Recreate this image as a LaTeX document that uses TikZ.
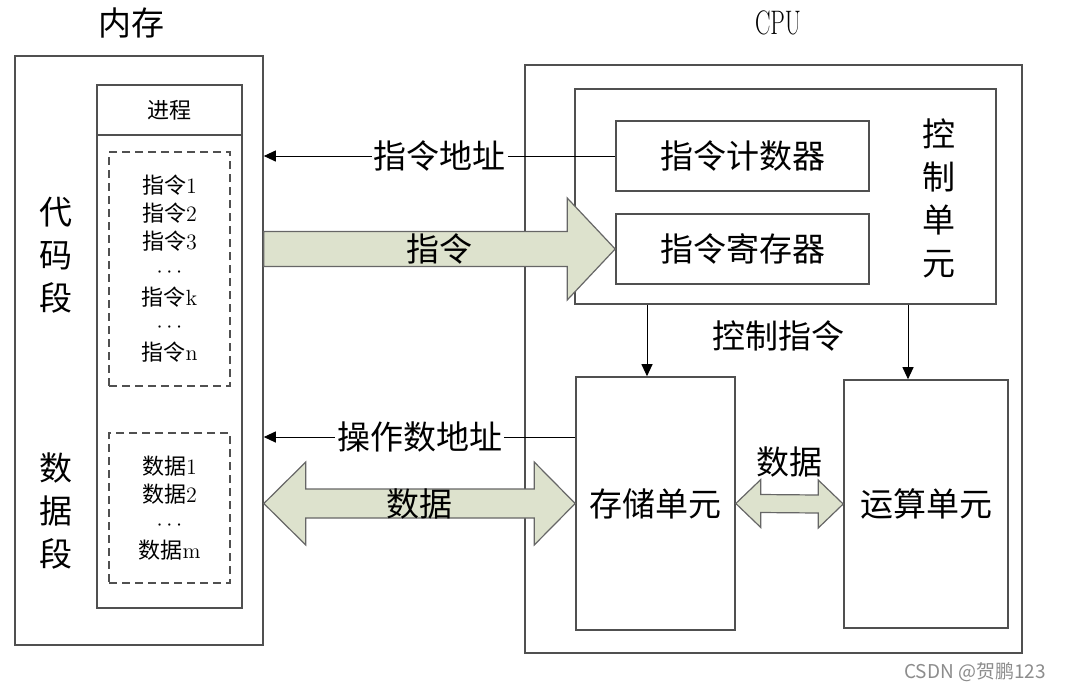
\documentclass[tikz,border=0pt]{standalone}
\usepackage{fontspec}
\newfontfamily\cjk{Noto Sans CJK SC}
\usetikzlibrary{arrows.meta,calc,positioning}
\definecolor{arrowfill}{RGB}{221,226,205}
\definecolor{boxline}{RGB}{80,80,80}

\begin{document}
\begin{tikzpicture}[x=0.5pt, y=-0.5pt, >={Triangle[length=6pt,width=5.5pt]},
                    box/.style={draw=boxline, line width=0.8pt, inner sep=0pt},
                    dashbox/.style={box, dash pattern=on 4pt off 2.5pt},
                    bigtxt/.style={font=\cjk\fontsize{16.5}{21.5}\selectfont},
                    smalltxt/.style={font=\cjk\fontsize{11}{13.9}\selectfont},
                    fatarrow/.style={draw=black!60, line width=0.6pt, fill=arrowfill},
                    lbl/.style={bigtxt, fill=white, inner xsep=1pt, inner ysep=0pt}]
\useasboundingbox (0,0) rectangle (1065,692);

% memory side
\node[box, minimum width=124pt, minimum height=294.5pt] (mem) at (139,350.5) {};
\node[bigtxt] (memtitle) at (131,23) {内存};
\node[box, minimum width=72.5pt, minimum height=236.5pt] (proc) at (169.5,371.5) {};
\node[box, smalltxt, minimum width=72.5pt, minimum height=25pt] (prochead) at (169.5,110) {进程};
\node[dashbox, smalltxt, align=center, minimum width=60.5pt, minimum height=117pt] (code) at (169.5,269)
  {指令\textrm{1}\\指令\textrm{2}\\指令\textrm{3}\\$\cdots$\\指令\textrm{k}\\$\cdots$\\指令\textrm{n}};
\node[dashbox, smalltxt, align=center, minimum width=60.5pt, minimum height=75pt] (data) at (169.5,508)
  {数据\textrm{1}\\数据\textrm{2}\\$\cdots$\\数据\textrm{m}};
\node[bigtxt, align=center] (codeseg) at (56,255) {代\\码\\段};
\node[bigtxt, align=center] (dataseg) at (56,511) {数\\据\\段};

% cpu side
\node[box, minimum width=248.5pt, minimum height=294pt] (cpu) at (773.5,359) {};
\node[font=\fontsize{17}{19}\selectfont] (cputitle) at (778,23) {\scalebox{0.68}[1]{CPU}};
\node[box, minimum width=210.5pt, minimum height=107.5pt] (ctrl) at (785.5,196.5) {};
\node[box, bigtxt, minimum width=126.5pt, minimum height=35pt] (pc) at (742.5,156) {指令计数器};
\node[box, bigtxt, minimum width=126.5pt, minimum height=35pt] (ir) at (742.5,249) {指令寄存器};
\node[bigtxt, align=center] (ctrltxt) at (939,198) {控\\制\\单\\元};
\node[box, bigtxt, minimum width=79.5pt, minimum height=126.5pt] (stor) at (655.5,503.5) {存储单元};
\node[box, bigtxt, minimum width=82pt, minimum height=124pt] (alu) at (926,504) {运算单元};
\node[bigtxt] (ctrlcmd) at (778,336) {控制指令};

\path[->, line width=0.5pt]
([xshift=-4.25pt]stor.north |- ctrl.south) edge ([xshift=-4.25pt]stor.north)
([xshift=-9pt]alu.north |- ctrl.south) edge ([xshift=-9pt]alu.north)
(pc.west) edge node[lbl] {指令地址} (pc.west -| mem.east)
([yshift=33.25pt]stor.west) edge node[lbl] {操作数地址} ([yshift=33.25pt]stor.west -| mem.east);

% wide arrows
\coordinate (irtail) at (mem.east |- ir.west);
\draw[fatarrow] ($(irtail)+(0,-17.5)$) -- ($(ir.west)+(-48,-17.5)$) -- ($(ir.west)+(-48,-51)$)
  -- (ir.west) -- ($(ir.west)+(-48,51)$) -- ($(ir.west)+(-48,17.5)$) -- ($(irtail)+(0,17.5)$) -- cycle;
\node[bigtxt] (instr) at ($(irtail)!0.5!(ir.west)$) {指令};

\coordinate (dtail) at (mem.east |- stor.west);
\draw[fatarrow] (dtail) -- ($(dtail)+(42,-41.5)$) -- ($(dtail)+(42,-14.5)$) -- ($(stor.west)+(-41,-14.5)$)
  -- ($(stor.west)+(-41,-41.5)$) -- (stor.west) -- ($(stor.west)+(-41,41.5)$) -- ($(stor.west)+(-41,14.5)$)
  -- ($(dtail)+(42,14.5)$) -- ($(dtail)+(42,41.5)$) -- cycle;
\node[bigtxt] (datatxt) at ($(dtail)!0.5!(stor.west)$) {数据};

\draw[fatarrow] (stor.east) -- ($(stor.east)+(25,-24)$) -- ($(stor.east)+(25,-9)$) -- ($(alu.west)+(-25,-9)$)
  -- ($(alu.west)+(-25,-24)$) -- (alu.west) -- ($(alu.west)+(-25,24)$) -- ($(alu.west)+(-25,9)$)
  -- ($(stor.east)+(25,9)$) -- ($(stor.east)+(25,24)$) -- cycle;
\node[bigtxt] (alutxt) at ($($(stor.east)!0.5!(alu.west)$)+(0,-42)$) {数据};

\node[font=\cjk\fontsize{9.5}{11}\selectfont, text=black!45] (mark) at (975,672) {CSDN @贺鹏123};
\end{tikzpicture}
\end{document}
